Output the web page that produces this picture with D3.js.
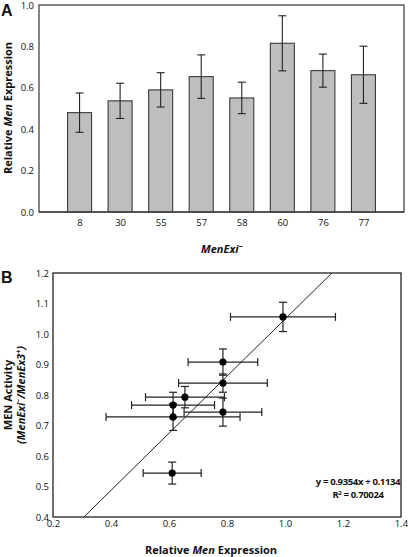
<!DOCTYPE html>
<html>
<head>
<meta charset="utf-8">
<script src="https://cdn.jsdelivr.net/npm/d3@7"></script>
<style>
  html, body { margin: 0; padding: 0; background: #fff; }
  svg { display: block; }
  .tick text { font-family: "Open Sans", "DejaVu Sans", sans-serif; font-size: 9.5px; fill: #111; }
  .title { font-family: "Open Sans", sans-serif; font-weight: bold; font-size: 11px; fill: #111; }
  .eq { font-family: "Open Sans", sans-serif; font-weight: bold; font-size: 9.5px; letter-spacing: -0.35px; fill: #111; }
  .panel { font-family: "Liberation Sans", Arial, sans-serif; font-weight: bold; font-size: 16px; fill: #111; }
</style>
</head>
<body>
<svg id="chart" width="408" height="557"></svg>
<script>
// ---------- Panel A data ----------
const categories = ["8", "30", "55", "57", "58", "60", "76", "77"];
const expression = [0.48, 0.537, 0.59, 0.654, 0.551, 0.815, 0.683, 0.663];
const expressionErr = [0.095, 0.085, 0.083, 0.105, 0.076, 0.133, 0.08, 0.138];
const yTicksA = [0.0, 0.2, 0.4, 0.6, 0.8, 1.0];

// ---------- Panel B data ----------
const relExpr = [0.993, 0.786, 0.786, 0.655, 0.614, 0.786, 0.614, 0.611];
const relExprErr = [0.181, 0.12, 0.153, 0.136, 0.143, 0.134, 0.231, 0.1];
const menActivity = [1.056, 0.908, 0.839, 0.793, 0.767, 0.744, 0.728, 0.544];
const menActivityErr = [0.048, 0.043, 0.03, 0.035, 0.042, 0.046, 0.044, 0.036];
const xTicksB = [0.2, 0.4, 0.6, 0.8, 1.0, 1.2, 1.4];
const yTicksB = [0.4, 0.5, 0.6, 0.7, 0.8, 0.9, 1.0, 1.1, 1.2];
const fitSlope = 0.9354;
const fitIntercept = 0.1134;
const fitR2 = "0.70024";

const svg = d3.select("#chart");

// ================= Panel A =================
const xA = d3.scalePoint().domain(categories).range([39, 404]).padding(1);
const yA = d3.scaleLinear().domain([0, 1]).range([212, 5]);
const barW = 24;

const gA = svg.append("g");
gA.append("rect")
  .attr("x", 39).attr("y", 5).attr("width", 404 - 39).attr("height", 212 - 5)
  .attr("fill", "none").attr("stroke", "#444").attr("stroke-width", 1.3);

gA.selectAll("rect.bar").data(categories).join("rect")
  .attr("class", "bar")
  .attr("x", d => xA(d) - barW / 2)
  .attr("y", (d, i) => yA(expression[i]))
  .attr("width", barW)
  .attr("height", (d, i) => yA(0) - yA(expression[i]))
  .attr("fill", "#bebebe").attr("stroke", "#3a3a3a").attr("stroke-width", 1.1);

const errA = gA.selectAll("g.err").data(categories).join("g").attr("class", "err")
  .attr("stroke", "#222").attr("stroke-width", 1.1);
errA.append("line")
  .attr("x1", d => xA(d)).attr("x2", d => xA(d))
  .attr("y1", (d, i) => yA(expression[i] + expressionErr[i]))
  .attr("y2", (d, i) => yA(expression[i] - expressionErr[i]));
errA.append("line")
  .attr("x1", d => xA(d) - 4).attr("x2", d => xA(d) + 4)
  .attr("y1", (d, i) => yA(expression[i] + expressionErr[i]))
  .attr("y2", (d, i) => yA(expression[i] + expressionErr[i]));
errA.append("line")
  .attr("x1", d => xA(d) - 4).attr("x2", d => xA(d) + 4)
  .attr("y1", (d, i) => yA(expression[i] - expressionErr[i]))
  .attr("y2", (d, i) => yA(expression[i] - expressionErr[i]));

gA.append("line").attr("x1", 39).attr("x2", 404).attr("y1", 212).attr("y2", 212)
  .attr("stroke", "#444").attr("stroke-width", 1.3);

gA.append("g").attr("transform", "translate(39,0)")
  .call(d3.axisLeft(yA).tickValues(yTicksA).tickSize(0).tickPadding(5).tickFormat(d3.format(".1f")))
  .call(g => g.select(".domain").remove());

gA.append("g").attr("transform", "translate(0,212)")
  .call(d3.axisBottom(xA).tickSize(0).tickPadding(7))
  .call(g => g.select(".domain").remove());

const yTitleA = gA.append("text").attr("class", "title")
  .attr("transform", "translate(12,108) rotate(-90)").attr("text-anchor", "middle");
yTitleA.append("tspan").text("Relative ");
yTitleA.append("tspan").attr("font-style", "italic").text("Men");
yTitleA.append("tspan").text(" Expression");

const xTitleA = gA.append("text").attr("class", "title")
  .attr("x", 222).attr("y", 253).attr("text-anchor", "middle").attr("font-style", "italic");
xTitleA.append("tspan").text("MenExi");
xTitleA.append("tspan").attr("font-size", "8px").attr("dy", -4).text("−");

gA.append("text").attr("class", "panel").attr("x", 1).attr("y", 16).text("A");

// ================= Panel B =================
const xB = d3.scaleLinear().domain([0.2, 1.4]).range([53, 401]);
const yB = d3.scaleLinear().domain([0.4, 1.2]).range([517, 273]);

const gB = svg.append("g");
gB.append("rect")
  .attr("x", 53).attr("y", 273).attr("width", 401 - 53).attr("height", 517 - 273)
  .attr("fill", "none").attr("stroke", "#222").attr("stroke-width", 1.3);

const [yMinB, yMaxB] = yB.domain();
const [xMinB, xMaxB] = xB.domain();
let x0 = Math.max(xMinB, (yMinB - fitIntercept) / fitSlope);
let x1 = Math.min(xMaxB, (yMaxB - fitIntercept) / fitSlope);
gB.append("line")
  .attr("x1", xB(x0)).attr("y1", yB(fitSlope * x0 + fitIntercept))
  .attr("x2", xB(x1)).attr("y2", yB(fitSlope * x1 + fitIntercept))
  .attr("stroke", "#222").attr("stroke-width", 1);

const pts = relExpr.map((x, i) => ({ x, y: menActivity[i], ex: relExprErr[i], ey: menActivityErr[i] }));
const errB = gB.selectAll("g.errb").data(pts).join("g").attr("class", "errb")
  .attr("stroke", "#222").attr("stroke-width", 1.2);
errB.append("line")
  .attr("x1", d => xB(d.x - d.ex)).attr("x2", d => xB(d.x + d.ex))
  .attr("y1", d => yB(d.y)).attr("y2", d => yB(d.y));
errB.append("line")
  .attr("x1", d => xB(d.x - d.ex)).attr("x2", d => xB(d.x - d.ex))
  .attr("y1", d => yB(d.y) - 4).attr("y2", d => yB(d.y) + 4);
errB.append("line")
  .attr("x1", d => xB(d.x + d.ex)).attr("x2", d => xB(d.x + d.ex))
  .attr("y1", d => yB(d.y) - 4).attr("y2", d => yB(d.y) + 4);
errB.append("line")
  .attr("x1", d => xB(d.x)).attr("x2", d => xB(d.x))
  .attr("y1", d => yB(d.y + d.ey)).attr("y2", d => yB(d.y - d.ey));
errB.append("line")
  .attr("x1", d => xB(d.x) - 4).attr("x2", d => xB(d.x) + 4)
  .attr("y1", d => yB(d.y + d.ey)).attr("y2", d => yB(d.y + d.ey));
errB.append("line")
  .attr("x1", d => xB(d.x) - 4).attr("x2", d => xB(d.x) + 4)
  .attr("y1", d => yB(d.y - d.ey)).attr("y2", d => yB(d.y - d.ey));

gB.selectAll("circle").data(pts).join("circle")
  .attr("cx", d => xB(d.x)).attr("cy", d => yB(d.y)).attr("r", 3.6).attr("fill", "#000");

gB.append("g").attr("transform", "translate(53,0)")
  .call(d3.axisLeft(yB).tickValues(yTicksB).tickSize(0).tickPadding(4).tickFormat(d3.format(".1f")))
  .call(g => g.select(".domain").remove());
gB.append("g").attr("transform", "translate(0,517)")
  .call(d3.axisBottom(xB).tickValues(xTicksB).tickSize(0).tickPadding(3).tickFormat(d3.format(".1f")))
  .call(g => g.select(".domain").remove());

// equation
gB.append("text").attr("class", "eq")
  .attr("x", 358).attr("y", 485).attr("text-anchor", "middle")
  .text(`y = ${fitSlope}x + ${fitIntercept}`);
const r2 = gB.append("text").attr("class", "eq")
  .attr("x", 358).attr("y", 498).attr("text-anchor", "middle");
r2.append("tspan").text("R");
r2.append("tspan").attr("font-size", "6px").attr("dy", -3.5).text("2");
r2.append("tspan").attr("dy", 3.5).text(" = " + fitR2);

// axis titles B
const xTitleB = gB.append("text").attr("class", "title")
  .attr("x", 211).attr("y", 554).attr("text-anchor", "middle");
xTitleB.append("tspan").text("Relative ");
xTitleB.append("tspan").attr("font-style", "italic").text("Men");
xTitleB.append("tspan").text(" Expression");

gB.append("text").attr("class", "title")
  .attr("transform", "translate(12,395) rotate(-90)").attr("text-anchor", "middle")
  .text("MEN Activity");
const yTitleB2 = gB.append("text").attr("class", "title").attr("font-style", "italic")
  .attr("transform", "translate(25,395) rotate(-90)").attr("text-anchor", "middle");
yTitleB2.append("tspan").text("(MenExi");
yTitleB2.append("tspan").attr("font-size", "7px").attr("dy", -4).text("−");
yTitleB2.append("tspan").attr("dy", 4).text("/MenEx3");
yTitleB2.append("tspan").attr("font-size", "7px").attr("dy", -4).text("+");
yTitleB2.append("tspan").attr("dy", 4).text(")");

gB.append("text").attr("class", "panel").attr("x", 1).attr("y", 283).text("B");
</script>
</body>
</html>
